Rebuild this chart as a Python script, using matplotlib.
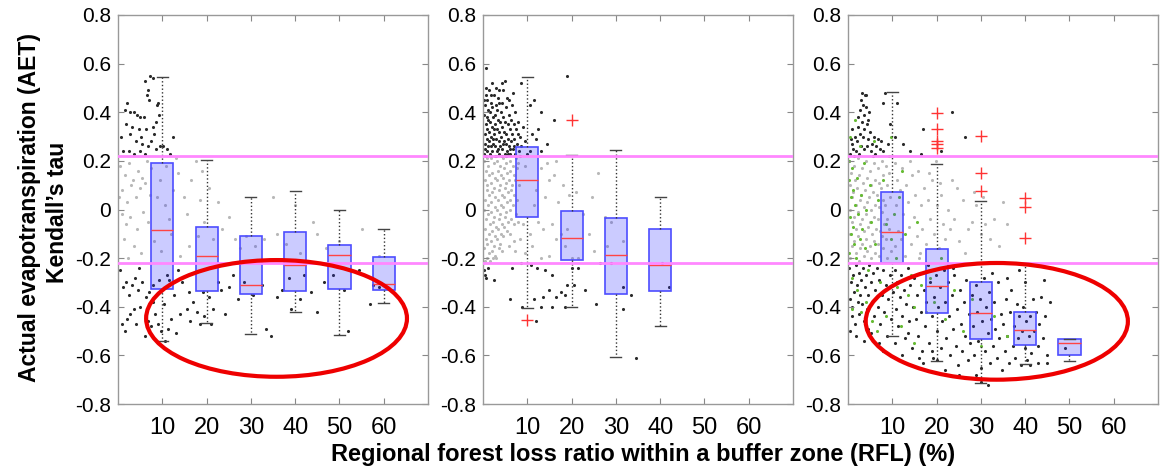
import matplotlib
matplotlib.use('Agg')
import matplotlib.pyplot as plt
from matplotlib import font_manager
from matplotlib.patches import Ellipse

names = {f.name for f in font_manager.fontManager.ttflist}
narrow = 'Liberation Sans Narrow' if 'Liberation Sans Narrow' in names else 'Liberation Sans'
plt.rcParams['font.family'] = ['Liberation Sans', 'DejaVu Sans']

# ---- data -------------------------------------------------------------
x_ticks = [10, 20, 30, 40, 50, 60]
y_ticks = [-0.8, -0.6, -0.4, -0.2, 0, 0.2, 0.4, 0.6, 0.8]
y_labels = ['-0.8', '-0.6', '-0.4', '-0.2', '0', '0.2', '0.4', '0.6', '0.8']
tau_crit = 0.22

# box statistics per panel: position, q1, median, q3, whisker low, whisker high, outliers
p1_boxes = [
    (10, -0.327, -0.085, 0.190, -0.540, 0.547, []),
    (20, -0.334, -0.190, -0.074, -0.468, 0.204, []),
    (30, -0.349, -0.311, -0.108, -0.512, 0.051, []),
    (40, -0.336, -0.227, -0.093, -0.422, 0.078, []),
    (50, -0.326, -0.189, -0.144, -0.518, 0.000, []),
    (60, -0.333, -0.307, -0.196, -0.386, -0.081, []),
]
p2_boxes = [
    (10, -0.029, 0.122, 0.256, -0.404, 0.547, [-0.456]),
    (20, -0.207, -0.119, -0.007, -0.401, 0.226, [0.368]),
    (30, -0.349, -0.188, -0.037, -0.607, 0.245, []),
    (40, -0.337, -0.227, -0.081, -0.478, 0.053, []),
]
p3_boxes = [
    (10, -0.219, -0.092, 0.071, -0.522, 0.485, []),
    (20, -0.426, -0.314, -0.163, -0.623, 0.188, [0.395, 0.330, 0.282, 0.268, 0.255]),
    (30, -0.532, -0.426, -0.299, -0.714, 0.037, [0.304, 0.151, 0.077]),
    (40, -0.559, -0.496, -0.423, -0.634, -0.221, [0.047, 0.011, -0.119]),
    (50, -0.599, -0.551, -0.533, -0.625, -0.533, []),
]

# scattered tau values (RFL %, tau)
p1_dark = [
    (7.2, 0.55), (8.0, 0.54), (6.2, 0.53), (6.8, 0.49), (6.5, 0.47), (7.0, 0.45), (2.1, 0.44), (9.0, 0.44),
    (8.8, 0.43), (1.5, 0.41), (2.8, 0.40), (3.6, 0.40), (4.3, 0.39), (9.2, 0.39), (5.0, 0.38), (5.8, 0.38),
    (8.5, 0.36), (1.8, 0.35), (3.1, 0.34), (7.8, 0.34), (4.7, 0.33), (6.3, 0.33), (2.6, 0.31), (8.1, 0.31),
    (5.3, 0.30), (12.5, 0.30), (0.6, 0.30), (4.0, 0.28), (7.4, 0.28), (5.5, 0.27), (6.7, 0.26), (9.4, 0.26),
    (10.2, 0.26), (11.0, 0.25), (8.6, 0.25), (1.2, 0.24), (2.4, 0.24), (4.9, 0.24), (3.5, 0.23), (6.0, 0.23),
    (11.8, 0.23),
    (0.5, -0.25), (1.2, -0.32), (1.8, -0.30), (2.5, -0.35), (3.2, -0.31), (3.8, -0.28), (4.5, -0.33),
    (5.5, -0.30), (6.3, -0.36), (7.0, -0.34), (7.8, -0.38), (0.8, -0.47), (1.5, -0.50), (2.8, -0.43),
    (3.6, -0.41), (4.1, -0.47), (5.0, -0.40), (6.0, -0.52), (6.8, -0.46), (7.5, -0.48), (8.3, -0.43),
    (9.0, -0.47), (9.7, -0.50), (10.4, -0.39), (11.0, -0.27), (11.5, -0.29), (12.0, -0.45), (12.6, -0.35),
    (13.2, -0.51), (14.0, -0.43), (14.5, -0.30), (15.5, -0.41), (16.3, -0.46), (17.0, -0.38), (17.8, -0.42),
    (18.5, -0.47), (19.2, -0.34), (20.5, -0.36), (21.5, -0.41), (22.5, -0.30), (23.2, -0.33), (24.2, -0.43),
    (25.0, -0.32), (26.0, -0.27), (27.0, -0.37), (28.5, -0.30), (30.5, -0.35), (32.5, -0.31), (33.5, -0.49),
    (34.5, -0.52), (36.0, -0.36), (37.0, -0.33), (38.5, -0.28), (39.0, -0.41), (41.0, -0.37), (42.0, -0.27),
    (43.5, -0.34), (45.0, -0.42), (46.5, -0.30), (48.5, -0.27), (51.0, -0.33), (52.0, -0.50), (54.5, -0.25),
    (57.0, -0.39), (57.5, -0.31), (59.0, -0.32), (10.5, -0.54), (9.2, -0.29), (11.2, -0.49), (4.8, -0.24),
    (2.0, -0.45), (8.0, -0.31), (13.5, -0.25), (16.0, -0.34), (19.5, -0.44), (21.0, -0.47),
]
p1_light = [
    (0.5, 0.18), (1.5, 0.14), (2.5, 0.19), (3.3, 0.12), (4.5, 0.16), (5.5, 0.13), (6.5, 0.20), (7.5, 0.17),
    (1.0, 0.08), (2.0, 0.03), (3.0, 0.10), (4.0, 0.05), (5.0, 0.09), (6.0, 0.11), (7.2, 0.06), (0.8, -0.02),
    (1.8, -0.06), (2.8, -0.03), (4.2, -0.08), (5.7, -0.01), (6.8, -0.05), (8.8, 0.05), (9.5, 0.12),
    (10.5, 0.02), (11.5, -0.04), (12.5, 0.08), (13.5, 0.15), (14.8, 0.05), (15.5, -0.02), (16.5, 0.12),
    (17.5, 0.20), (18.5, 0.04), (19.5, -0.05), (20.5, 0.09), (21.5, -0.12), (22.5, 0.03), (23.5, -0.08),
    (25.0, -0.03), (26.5, -0.12), (27.5, -0.16), (29.0, -0.11), (31.0, -0.15), (33.0, -0.12), (35.0, 0.05),
    (36.0, -0.10), (38.0, -0.14), (40.0, 0.02), (41.0, -0.18), (44.0, -0.05), (45.0, -0.10), (47.0, -0.16),
    (50.0, -0.13), (55.0, -0.08), (59.0, -0.19), (1.3, -0.12), (3.6, -0.15), (5.2, -0.18), (8.2, -0.13),
    (9.8, -0.17), (12.0, -0.10), (14.0, -0.19), (16.0, -0.15), (18.0, -0.11), (19.0, 0.16), (13.0, 0.21),
    (10.8, 0.18), (2.2, -0.20), (0.3, 0.05),
]
p2_dark = [
    (0.3, 0.23), (0.5, 0.27), (0.4, 0.31), (0.6, 0.35), (0.3, 0.39), (0.5, 0.43), (0.7, 0.47), (0.4, 0.25),
    (0.8, 0.29), (0.9, 0.33), (1.0, 0.24), (1.1, 0.37), (1.2, 0.41), (1.0, 0.45), (1.3, 0.28), (1.4, 0.32),
    (1.5, 0.23), (1.6, 0.36), (1.7, 0.26), (1.5, 0.40), (1.8, 0.44), (1.9, 0.30), (2.0, 0.34), (2.1, 0.24),
    (2.2, 0.38), (2.3, 0.27), (2.1, 0.42), (2.4, 0.47), (2.5, 0.31), (2.6, 0.22), (2.7, 0.35), (2.8, 0.26),
    (2.6, 0.39), (2.9, 0.43), (3.0, 0.29), (3.1, 0.33), (3.2, 0.24), (3.3, 0.37), (3.4, 0.46), (3.2, 0.41),
    (3.5, 0.28), (3.6, 0.32), (3.7, 0.23), (3.8, 0.36), (3.9, 0.26), (4.0, 0.40), (4.1, 0.30), (4.2, 0.44),
    (4.3, 0.34), (4.4, 0.25), (4.5, 0.38), (4.6, 0.49), (4.7, 0.28), (4.8, 0.32), (4.9, 0.23), (5.0, 0.36),
    (5.1, 0.42), (5.2, 0.27), (5.3, 0.31), (5.4, 0.46), (5.5, 0.24), (5.6, 0.35), (5.7, 0.29), (5.8, 0.39),
    (5.9, 0.26), (6.0, 0.33), (6.2, 0.23), (6.3, 0.37), (6.4, 0.28), (6.5, 0.43), (6.6, 0.31), (6.8, 0.25),
    (6.9, 0.35), (7.0, 0.29), (7.2, 0.40), (7.3, 0.23), (7.5, 0.33), (7.7, 0.27), (7.9, 0.36), (8.1, 0.24),
    (8.3, 0.30), (8.6, 0.26), (0.6, 0.50), (1.3, 0.49), (2.0, 0.52), (2.9, 0.50), (3.7, 0.49), (4.4, 0.52),
    (0.2, 0.45), (1.7, 0.47), (0.9, 0.38), (2.4, 0.33), (3.5, 0.44), (5.9, 0.45), (6.7, 0.48), (1.2, 0.26),
    (2.2, 0.29), (3.4, 0.25), (4.6, 0.27), (5.7, 0.23), (0.7, 0.22), (1.9, 0.22), (3.0, 0.22), (4.2, 0.22),
    (5.3, 0.22), (6.0, 0.25), (7.1, 0.26), (7.8, 0.31), (8.4, 0.22),
    (0.7, 0.58), (5.0, 0.53), (8.5, 0.52), (19.0, 0.55), (11.5, 0.45), (10.5, 0.43), (13.0, 0.40),
    (16.0, 0.37), (11.0, 0.31), (12.5, 0.33), (12.0, 0.29), (9.5, 0.28), (14.5, 0.27), (13.0, 0.24),
    (10.5, 0.24), (9.0, 0.34), (10.0, 0.23),
    (0.3, -0.25), (0.6, -0.28), (1.2, -0.24), (0.4, -0.27), (2.5, -0.29), (6.5, -0.24), (8.5, -0.22),
    (10.8, -0.23), (12.2, -0.24), (14.0, -0.25), (15.5, -0.27), (13.5, -0.36), (15.0, -0.33), (16.5, -0.36),
    (17.5, -0.34), (18.5, -0.35), (19.0, -0.31), (20.0, -0.24), (21.5, -0.24), (6.0, -0.37), (11.5, -0.37),
    (13.0, -0.40), (15.5, -0.40), (12.0, -0.46), (8.8, -0.40), (18.5, -0.40), (20.5, -0.31), (25.5, -0.39),
    (26.5, -0.22), (31.5, -0.32), (33.5, -0.35), (31.5, -0.41), (34.5, -0.61), (29.0, -0.22), (42.0, -0.32),
    (40.5, -0.22), (23.0, -0.33),
]
p2_light = [
    (0.3, 0.20), (0.6, 0.16), (0.4, 0.12), (0.8, 0.08), (0.5, 0.04), (0.3, 0.00), (0.7, -0.04), (0.4, -0.08),
    (0.6, -0.12), (0.3, -0.16), (0.8, -0.20), (1.1, 0.18), (1.3, 0.14), (1.0, 0.10), (1.4, 0.06), (1.2, 0.02),
    (1.1, -0.02), (1.5, -0.06), (1.3, -0.10), (1.0, -0.14), (1.4, -0.18), (1.8, 0.21), (2.0, 0.15), (1.7, 0.11),
    (2.1, 0.07), (1.9, 0.03), (1.7, -0.01), (2.2, -0.05), (2.0, -0.09), (1.8, -0.13), (2.1, -0.17), (2.5, 0.19),
    (2.7, 0.13), (2.4, 0.09), (2.8, 0.05), (2.6, 0.01), (2.5, -0.03), (2.9, -0.07), (2.7, -0.11), (2.4, -0.15),
    (2.8, -0.19), (3.2, 0.20), (3.4, 0.16), (3.1, 0.12), (3.5, 0.08), (3.3, 0.04), (3.2, 0.00), (3.6, -0.04),
    (3.4, -0.08), (3.1, -0.12), (3.5, -0.16), (3.9, 0.18), (4.1, 0.14), (3.8, 0.10), (4.2, 0.06), (4.0, 0.02),
    (3.9, -0.02), (4.3, -0.06), (4.1, -0.10), (3.8, -0.14), (4.6, 0.21), (4.8, 0.17), (4.5, 0.13), (4.9, 0.09),
    (4.7, 0.05), (4.6, 0.01), (5.0, -0.03), (4.8, -0.07), (4.5, -0.11), (5.3, 0.19), (5.5, 0.15), (5.2, 0.11),
    (5.6, 0.07), (5.4, 0.03), (5.3, -0.01), (5.7, -0.05), (5.5, -0.09), (6.0, 0.20), (6.2, 0.16), (5.9, 0.12),
    (6.3, 0.08), (6.1, 0.04), (6.0, 0.00), (6.4, -0.04), (6.2, -0.10), (6.7, 0.18), (6.9, 0.14), (6.6, 0.10),
    (7.0, 0.06), (6.8, 0.02), (7.1, -0.06), (6.9, -0.13), (7.4, 0.21), (7.6, 0.17), (7.3, 0.12), (7.7, 0.04),
    (7.5, -0.02), (8.0, 0.19), (8.2, 0.10), (8.0, -0.05), (8.4, -0.12), (0.5, -0.21), (1.6, -0.21),
    (2.2, -0.20), (3.0, -0.20), (4.4, -0.17), (5.8, -0.15), (7.2, -0.17), (0.9, 0.21), (5.1, 0.22),
    (9.5, 0.18), (13.0, 0.17), (16.0, 0.14), (15.0, 0.12), (18.0, 0.10), (12.0, 0.08), (14.0, 0.05),
    (17.0, 0.03), (19.5, 0.06), (21.0, 0.07), (22.5, -0.02), (24.0, -0.10), (26.0, 0.15), (27.5, -0.03),
    (29.0, -0.05), (31.5, -0.13), (12.5, -0.05), (13.5, -0.08), (15.5, -0.06), (17.5, -0.10), (18.5, -0.15),
    (20.0, -0.20), (21.5, -0.20), (10.5, -0.10), (11.0, -0.15), (13.0, -0.20), (15.0, -0.19), (16.5, -0.12),
    (9.0, -0.06), (9.5, -0.18), (11.5, 0.02), (19.0, -0.08), (25.0, -0.17), (14.5, 0.19), (16.5, 0.20),
    (24.5, 0.05), (28.0, -0.15),
]
p3_dark = [
    (0.5, 0.23), (0.8, 0.27), (1.2, 0.25), (1.5, 0.30), (1.0, 0.33), (0.6, 0.29), (1.8, 0.24), (2.0, 0.28),
    (2.3, 0.34), (2.6, 0.31), (2.2, 0.38), (2.8, 0.41), (3.0, 0.45), (3.2, 0.48), (3.4, 0.43), (3.1, 0.36),
    (3.6, 0.39), (3.8, 0.47), (3.3, 0.30), (4.0, 0.42), (4.2, 0.35), (4.4, 0.26), (4.6, 0.29), (4.8, 0.40),
    (5.0, 0.32), (5.2, 0.24), (5.5, 0.27), (5.8, 0.30), (6.1, 0.23), (6.4, 0.26), (6.8, 0.29), (7.2, 0.25),
    (7.5, 0.28), (8.0, 0.24), (8.4, 0.48), (7.8, 0.44), (4.5, 0.37), (2.5, 0.23), (3.7, 0.25), (5.6, 0.22),
    (9.0, 0.27), (1.4, 0.22), (2.9, 0.26), (3.5, 0.33), (4.1, 0.47),
    (11.0, 0.44), (10.5, 0.30), (14.0, 0.24), (17.0, 0.33), (23.5, 0.40), (21.0, 0.24), (26.5, 0.30),
    (12.5, 0.27), (16.5, 0.23), (9.5, 0.35),
    (0.3, -0.24), (0.6, -0.30), (0.4, -0.37), (0.8, -0.44), (0.5, -0.50), (1.1, -0.27), (1.3, -0.34),
    (1.0, -0.40), (1.5, -0.47), (1.8, -0.23), (2.0, -0.31), (2.2, -0.38), (1.7, -0.52), (2.5, -0.26),
    (2.7, -0.35), (2.4, -0.43), (3.0, -0.29), (3.3, -0.24), (3.1, -0.39), (3.5, -0.46), (3.8, -0.32),
    (4.0, -0.27), (4.2, -0.41), (4.5, -0.35), (4.8, -0.23), (4.6, -0.49), (3.6, -0.54),
    (5.1, -0.30), (5.4, -0.38), (5.6, -0.26), (5.9, -0.44), (6.2, -0.33), (6.5, -0.24), (6.7, -0.40),
    (7.0, -0.29), (7.3, -0.47), (7.6, -0.35), (7.9, -0.25), (8.2, -0.42), (8.5, -0.31), (8.8, -0.52),
    (9.1, -0.37), (9.4, -0.27), (9.7, -0.45), (5.3, -0.51), (6.9, -0.55), (8.0, -0.58),
    (10.2, -0.34), (10.5, -0.25), (10.8, -0.41), (11.1, -0.30), (11.4, -0.48), (11.7, -0.36), (12.0, -0.27),
    (12.3, -0.44), (12.6, -0.33), (12.9, -0.53), (13.2, -0.39), (13.5, -0.24), (13.8, -0.46), (14.1, -0.31),
    (14.4, -0.57), (14.7, -0.40), (15.0, -0.28), (10.6, -0.55), (12.1, -0.60), (13.6, -0.51),
    (15.3, -0.45), (15.6, -0.35), (15.9, -0.52), (16.2, -0.26), (16.5, -0.42), (16.8, -0.58), (17.1, -0.33),
    (17.4, -0.48), (17.7, -0.38), (18.0, -0.23), (18.3, -0.55), (18.6, -0.30), (18.9, -0.44), (19.2, -0.61),
    (19.5, -0.36), (19.8, -0.27), (20.1, -0.50), (20.4, -0.40), (20.7, -0.32), (21.0, -0.57), (21.3, -0.46),
    (21.6, -0.25), (17.0, -0.63), (19.0, -0.58), (20.0, -0.62), (16.0, -0.61),
    (21.9, -0.38), (22.2, -0.53), (22.5, -0.30), (22.8, -0.44), (23.1, -0.60), (23.4, -0.35), (23.7, -0.49),
    (24.0, -0.27), (24.3, -0.56), (24.6, -0.41), (24.9, -0.64), (25.2, -0.33), (25.5, -0.47), (25.8, -0.58),
    (26.1, -0.38), (26.4, -0.52), (26.7, -0.29), (27.0, -0.62), (27.3, -0.43), (27.6, -0.55), (27.9, -0.35),
    (22.0, -0.66), (25.0, -0.68), (23.8, -0.24),
    (28.2, -0.48), (28.5, -0.60), (28.8, -0.31), (29.1, -0.42), (29.4, -0.54), (29.7, -0.37), (30.0, -0.65),
    (30.3, -0.46), (30.6, -0.28), (30.9, -0.58), (31.2, -0.40), (31.5, -0.51), (31.8, -0.34), (32.1, -0.63),
    (32.4, -0.45), (32.7, -0.56), (33.0, -0.38), (33.3, -0.49), (33.6, -0.61), (33.9, -0.30), (34.2, -0.53),
    (34.5, -0.43), (34.8, -0.66), (30.0, -0.71), (31.5, -0.72), (29.0, -0.68), (32.5, -0.26),
    (35.1, -0.47), (35.4, -0.58), (35.7, -0.37), (36.0, -0.52), (36.3, -0.63), (36.6, -0.42), (36.9, -0.33),
    (37.2, -0.56), (37.5, -0.48), (37.8, -0.61), (38.1, -0.39), (38.4, -0.53), (38.7, -0.44), (39.0, -0.64),
    (39.3, -0.50), (39.6, -0.40), (39.9, -0.57), (40.2, -0.46), (40.5, -0.62), (40.8, -0.52), (41.1, -0.44),
    (41.4, -0.59), (41.7, -0.37), (36.0, -0.28), (38.5, -0.25), (40.0, -0.30),
    (42.0, -0.50), (42.4, -0.42), (42.8, -0.56), (43.2, -0.47), (43.6, -0.36), (44.0, -0.53), (44.5, -0.44),
    (45.0, -0.60), (45.5, -0.38), (43.0, -0.63), (44.2, -0.29), (49.0, -0.57), (45.0, -0.63), (41.0, -0.64),
]
p3_light = [
    (0.3, 0.20), (0.7, 0.15), (0.5, 0.10), (0.9, 0.05), (0.4, 0.00), (0.8, -0.05), (0.5, -0.10), (0.9, -0.15),
    (0.4, -0.20), (1.3, 0.18), (1.6, 0.12), (1.2, 0.07), (1.7, 0.02), (1.4, -0.03), (1.8, -0.08), (1.3, -0.13),
    (1.7, -0.18), (2.2, 0.21), (2.5, 0.14), (2.1, 0.09), (2.6, 0.04), (2.3, -0.01), (2.7, -0.06), (2.2, -0.11),
    (2.6, -0.16), (2.4, -0.21), (3.1, 0.17), (3.4, 0.11), (3.0, 0.06), (3.5, 0.01), (3.2, -0.04), (3.6, -0.09),
    (3.1, -0.14), (3.5, -0.19), (4.0, 0.20), (4.3, 0.13), (3.9, 0.08), (4.4, 0.03), (4.1, -0.02), (4.5, -0.07),
    (4.0, -0.12), (4.4, -0.17), (4.9, 0.16), (5.2, 0.10), (4.8, 0.05), (5.3, 0.00), (5.0, -0.05), (5.4, -0.10),
    (4.9, -0.15), (5.3, -0.20), (5.8, 0.19), (6.1, 0.12), (5.7, 0.07), (6.2, 0.02), (5.9, -0.03), (6.3, -0.08),
    (5.8, -0.13), (6.2, -0.18), (6.7, 0.17), (7.0, 0.11), (6.6, 0.06), (7.1, 0.01), (6.8, -0.04), (7.2, -0.09),
    (6.7, -0.14), (7.1, -0.19), (7.6, 0.20), (7.9, 0.14), (7.5, 0.09), (8.0, 0.04), (7.7, -0.01), (8.1, -0.06),
    (7.6, -0.11), (8.0, -0.16), (8.5, 0.18), (8.8, 0.10), (8.4, 0.02), (8.9, -0.04), (8.6, -0.12), (8.8, -0.20),
    (9.3, 0.15), (9.5, 0.05), (9.2, -0.08), (9.6, -0.17), (10.5, 0.19), (11.0, 0.12), (10.8, 0.02),
    (11.3, -0.09), (10.6, -0.15), (11.8, 0.08), (12.2, 0.17), (12.5, -0.02), (12.0, -0.12), (12.8, -0.19),
    (13.2, 0.10), (13.5, 0.03), (13.8, -0.07), (14.2, -0.14), (14.5, 0.14), (14.8, -0.03), (15.2, 0.06),
    (15.5, -0.11), (15.8, 0.16), (16.2, -0.18), (16.5, 0.02), (16.8, -0.08), (17.2, 0.09), (17.5, -0.14),
    (18.0, 0.04), (18.5, -0.04), (19.0, 0.12), (19.5, -0.10), (20.0, 0.02), (20.5, -0.16), (21.0, 0.06),
    (21.5, -0.06), (22.0, -0.12), (22.5, 0.00), (23.0, -0.08), (24.0, -0.04), (25.0, -0.13), (26.0, 0.04),
    (27.0, -0.08), (28.0, -0.05), (29.0, 0.02), (30.0, -0.10), (31.0, -0.06), (32.0, -0.12), (33.0, -0.04),
    (34.0, -0.15), (28.5, 0.07), (26.5, -0.18), (24.5, 0.09), (18.2, 0.15), (20.8, 0.11), (23.5, 0.12),
    (30.5, 0.05), (35.0, 0.03), (36.0, -0.06), (16.0, -0.20), (14.0, 0.20), (19.8, 0.20),
]
p3_green = [
    (0.3, 0.12), (0.6, 0.05), (0.4, -0.03), (0.7, -0.10), (0.3, -0.18), (1.0, 0.17), (1.2, 0.08), (1.1, -0.07),
    (1.4, -0.14), (0.5, 0.30), (1.6, 0.02), (1.9, -0.20), (2.1, 0.13), (2.3, -0.02), (2.6, -0.12), (2.9, 0.06),
    (3.2, -0.08), (3.5, 0.19), (3.8, -0.16), (4.1, 0.00), (4.5, -0.25), (4.9, 0.10), (5.3, -0.05), (5.8, 0.28),
    (6.2, -0.14), (6.8, 0.04), (7.3, -0.30), (8.0, 0.12), (8.5, -0.06), (9.2, 0.22), (9.7, -0.12), (10.3, -0.02),
    (10.9, -0.20), (11.5, 0.05), (12.2, 0.16), (12.8, -0.10), (13.5, -0.35), (14.2, -0.27), (15.5, -0.05),
    (16.5, -0.31), (17.5, -0.42), (18.5, -0.28), (19.5, -0.38), (21.0, -0.20), (22.0, -0.45), (24.0, -0.33),
    (26.0, -0.50), (28.0, -0.37), (30.0, -0.56), (33.0, -0.44), (36.0, -0.52), (2.0, -0.33), (3.0, -0.42),
    (4.0, -0.38), (5.5, -0.46), (1.0, -0.41), (6.5, -0.50), (8.5, -0.44), (11.0, -0.32), (12.0, -0.48),
    (15.0, -0.40), (9.8, 0.30), (1.5, 0.37), (2.8, 0.26), (0.9, -0.28), (14.8, -0.55), (0.2, 0.20),
]

# highlighted regions: (centre x, centre y, width, height)
p1_ellipse = (35.8, -0.448, 58.9, 0.48)
p3_ellipse = (33.6, -0.460, 59.2, 0.48)

# ---- figure -----------------------------------------------------------
fig = plt.figure(figsize=(11.71, 4.72), dpi=100)
lefts = [118, 483, 848]
axes = [fig.add_axes([l / 1171, 68 / 472, 310 / 1171, 389 / 472]) for l in lefts]

panels = [
    (p1_boxes, [(p1_light, '#b8b8b8'), (p1_dark, '#2a2a2a')], p1_ellipse),
    (p2_boxes, [(p2_light, '#b8b8b8'), (p2_dark, '#2a2a2a')], None),
    (p3_boxes, [(p3_light, '#b8b8b8'), (p3_dark, '#2a2a2a'), (p3_green, '#66bb33')], p3_ellipse),
]

for ax, (boxes, groups, ell) in zip(axes, panels):
    for pts, col in groups:
        ax.scatter([p[0] for p in pts], [p[1] for p in pts], s=5, color=col, linewidths=0, zorder=1)

    stats = [dict(med=b[2], q1=b[1], q3=b[3], whislo=b[4], whishi=b[5], fliers=b[6]) for b in boxes]
    ax.bxp(stats, positions=[b[0] for b in boxes], widths=5, capwidths=2.5, patch_artist=True,
           manage_ticks=False,
           boxprops=dict(facecolor=(0.2, 0.2, 1.0, 0.25), edgecolor='#4d4dff', linewidth=1.2),
           medianprops=dict(color='#ff4444', linewidth=1),
           whiskerprops=dict(color='#333333', linestyle=':', linewidth=1),
           capprops=dict(color='#444444', linewidth=1),
           flierprops=dict(marker='+', markeredgecolor='#ff3333', markersize=8, markeredgewidth=1,
                           linestyle='none'))

    ax.axhline(tau_crit, color='#ff88ff', lw=2, zorder=3)
    ax.axhline(-tau_crit, color='#ff88ff', lw=2, zorder=3)

    if ell is not None:
        ax.add_patch(Ellipse((ell[0], ell[1]), ell[2], ell[3], fill=False, edgecolor='#ee0000',
                             lw=3, zorder=5, clip_on=False))

    ax.set_xlim(0, 70)
    ax.set_ylim(-0.8, 0.8)
    ax.set_xticks(x_ticks)
    ax.set_xticklabels([str(t) for t in x_ticks], family=narrow, fontsize=17)
    ax.set_yticks(y_ticks)
    ax.set_yticklabels(y_labels, fontsize=15)
    ax.tick_params(direction='in', top=True, right=True, length=4, color='#888888')
    ax.tick_params(axis='x', pad=9)
    ax.tick_params(axis='y', pad=5)
    for sp in ax.spines.values():
        sp.set_color('#999999')
        sp.set_linewidth(1)

fig.text(643 / 1171, 17 / 472, 'Regional forest loss ratio within a buffer zone (RFL) (%)',
         ha='center', va='center', fontsize=17, fontweight='bold', family=narrow)
fig.text(30 / 1171, 265 / 472, 'Actual evapotranspiration (AET)', rotation=90, ha='center',
         va='center', fontsize=16.5, fontweight='bold', family=narrow)
fig.text(57 / 1171, 260 / 472, 'Kendall\u2019s tau', rotation=90, ha='center', va='center',
         fontsize=16.5, fontweight='bold', family=narrow)

plt.savefig('out.png', dpi=100)
